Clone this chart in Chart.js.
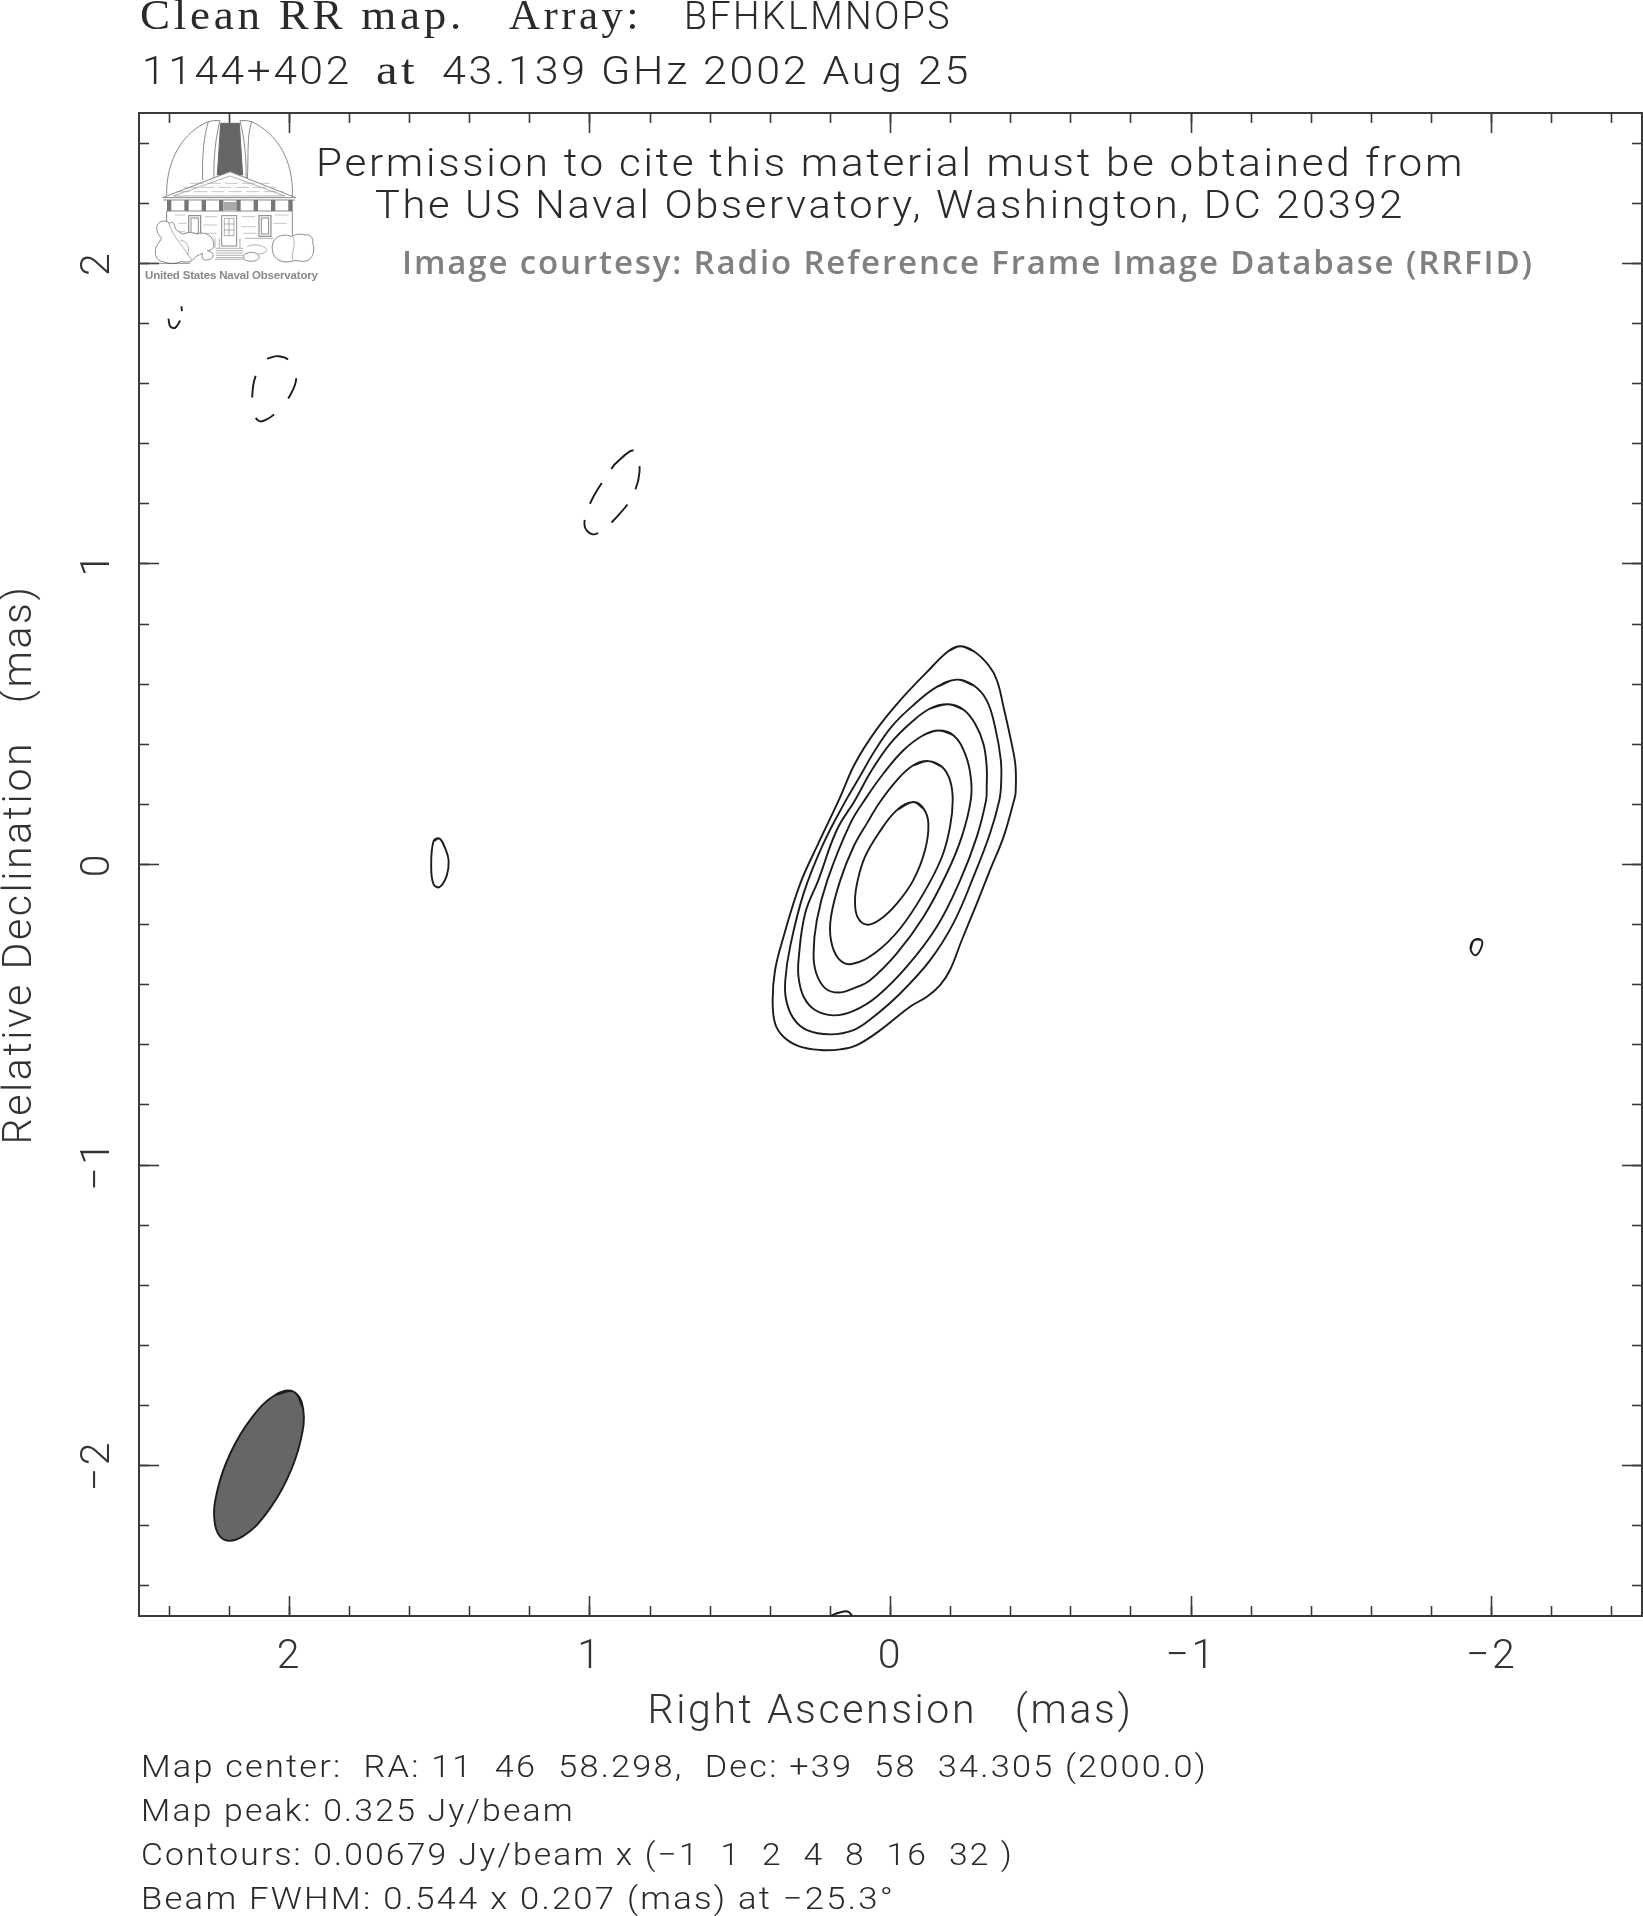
<!DOCTYPE html>
<html><head><meta charset="utf-8">
<script src="https://cdn.jsdelivr.net/npm/chart.js@4/dist/chart.umd.min.js"></script>
<style>
html,body{margin:0;padding:0;background:#fff;overflow:hidden}
#wrap{position:relative;width:1643px;height:1916px}
canvas{position:absolute;left:0;top:0}
svg{position:absolute;left:0;top:0}
svg text{white-space:pre}
</style></head><body>
<div id="wrap"><canvas id="c" width="1643" height="1916"></canvas>
<svg id="ov" width="1643" height="1916" viewBox="0 0 1643 1916" xmlns="http://www.w3.org/2000/svg"></svg></div>
<script>
const majorTicks=[2,1,0,-1,-2];
const majorLabels=['2','1','0','\u22121','\u22122'];
const minorTicks=[2.4,2.2,2,1.8,1.6,1.4,1.2,1,0.8,0.6,0.4,0.2,0,-0.2,-0.4,-0.6,-0.8,-1,-1.2,-1.4,-1.6,-1.8,-2,-2.2,-2.4];
const xTitle='Right Ascension   (mas)';
const yTitle='Relative Declination   (mas)';

const contour1=[[-0.232,0.726],[-0.276,0.710],[-0.326,0.663],[-0.354,0.613],[-0.376,0.524],[-0.403,0.402],[-0.416,0.325],[-0.416,0.236],[-0.411,0.214],[-0.376,0.092],[-0.331,-0.019],[-0.287,-0.130],[-0.237,-0.252],[-0.198,-0.351],[-0.165,-0.401],[-0.121,-0.440],[-0.065,-0.473],[0.034,-0.551],[0.112,-0.601],[0.167,-0.615],[0.234,-0.617],[0.306,-0.604],[0.356,-0.573],[0.384,-0.529],[0.392,-0.451],[0.384,-0.351],[0.356,-0.241],[0.300,-0.063],[0.240,0.070],[0.172,0.214],[0.118,0.336],[0.048,0.447],[-0.032,0.546],[-0.121,0.640],[-0.193,0.710],[-0.232,0.726]];
const contour2=[[-0.221,0.615],[-0.276,0.596],[-0.320,0.546],[-0.348,0.457],[-0.367,0.347],[-0.368,0.269],[-0.362,0.214],[-0.331,0.103],[-0.276,-0.041],[-0.209,-0.196],[-0.132,-0.318],[-0.032,-0.429],[0.057,-0.507],[0.123,-0.551],[0.201,-0.565],[0.278,-0.551],[0.323,-0.512],[0.347,-0.451],[0.350,-0.385],[0.334,-0.274],[0.289,-0.096],[0.223,0.070],[0.148,0.214],[0.103,0.291],[0.055,0.374],[-0.003,0.458],[-0.076,0.530],[-0.154,0.591],[-0.221,0.615]];
const contour3=[[-0.193,0.533],[-0.243,0.515],[-0.281,0.469],[-0.309,0.402],[-0.320,0.325],[-0.320,0.258],[-0.318,0.214],[-0.287,0.092],[-0.232,-0.052],[-0.154,-0.207],[-0.054,-0.340],[0.046,-0.440],[0.123,-0.487],[0.190,-0.502],[0.251,-0.484],[0.289,-0.440],[0.306,-0.374],[0.305,-0.307],[0.284,-0.163],[0.240,-0.052],[0.179,0.114],[0.118,0.214],[0.062,0.314],[0.001,0.402],[-0.065,0.469],[-0.132,0.519],[-0.193,0.533]];
const contour4=[[-0.160,0.446],[-0.209,0.430],[-0.248,0.369],[-0.267,0.291],[-0.267,0.214],[-0.237,0.092],[-0.187,-0.030],[-0.110,-0.174],[-0.021,-0.296],[0.068,-0.385],[0.123,-0.412],[0.173,-0.426],[0.217,-0.412],[0.247,-0.362],[0.256,-0.296],[0.245,-0.185],[0.210,-0.052],[0.134,0.136],[0.079,0.225],[0.024,0.302],[-0.043,0.380],[-0.109,0.430],[-0.160,0.446]];
const contour5=[[-0.126,0.344],[-0.171,0.325],[-0.198,0.280],[-0.207,0.214],[-0.198,0.125],[-0.171,0.025],[-0.110,-0.096],[-0.032,-0.213],[0.046,-0.290],[0.129,-0.331],[0.173,-0.313],[0.198,-0.252],[0.198,-0.174],[0.167,-0.052],[0.123,0.059],[0.079,0.136],[0.035,0.208],[-0.021,0.280],[-0.076,0.330],[-0.126,0.344]];
const contour6=[[-0.076,0.208],[-0.110,0.186],[-0.126,0.136],[-0.115,0.048],[-0.076,-0.052],[-0.021,-0.130],[0.035,-0.183],[0.079,-0.200],[0.110,-0.174],[0.118,-0.119],[0.109,-0.052],[0.085,0.025],[0.040,0.103],[-0.021,0.181],[-0.076,0.208]];
const islandWest=[[1.500,0.086],[1.481,0.053],[1.470,0.014],[1.476,-0.036],[1.500,-0.075],[1.520,-0.066],[1.528,-0.008],[1.520,0.078],[1.500,0.086]];
const islandEast=[[-1.941,-0.252],[-1.964,-0.250],[-1.967,-0.271],[-1.947,-0.302],[-1.930,-0.282],[-1.941,-0.252]];
const islandSouth=[[0.198,-2.499],[0.184,-2.493],[0.156,-2.485],[0.140,-2.486],[0.128,-2.499]];
const negativeA=[[2.074,1.683],[2.035,1.691],[1.999,1.675],[1.977,1.622],[1.994,1.567],[2.039,1.508],[2.080,1.478],[2.102,1.476],[2.121,1.506],[2.124,1.544],[2.113,1.622],[2.074,1.683]];
const negativeB=[[0.918,1.331],[0.866,1.375],[0.849,1.373],[0.835,1.306],[0.860,1.223],[0.908,1.159],[0.962,1.110],[0.993,1.099],[1.018,1.129],[0.999,1.201],[0.960,1.270],[0.918,1.331]];
const negativeC=[[2.402,1.816],[2.396,1.790],[2.379,1.786],[2.363,1.810]];
const negativeD=[[2.359,1.857],[2.357,1.841]];
const beam=[[1.985,-1.754],[2.047,-1.765],[2.124,-1.839],[2.195,-1.956],[2.240,-2.085],[2.248,-2.191],[2.217,-2.246],[2.155,-2.235],[2.078,-2.161],[2.007,-2.044],[1.962,-1.915],[1.954,-1.809],[1.985,-1.754]];

const thin='Roboto';
const pts=a=>a.map(p=>({x:p[0],y:p[1]}));
const wrap=a=>[a[a.length-2],...a,a[1]];
const line=(a,extra)=>Object.assign({data:pts(a),showLine:true,pointRadius:0,borderColor:'#1c1c1c',borderWidth:1.9,tension:0.4,fill:false},extra||{});
const axisBase=(pos,vals,len,weight,size)=>({
  type:'linear',position:pos,
  reverse:pos==='top'||pos==='bottom',
  min:-2.5,max:2.5,weight,
  afterBuildTicks:s=>{s.ticks=vals.map(v=>({value:v}));},
  afterFit:s=>{if(s.isHorizontal())s.height=size;else s.width=size;},
  border:{display:true,color:'#3a3a3a',width:2},
  grid:{drawOnChartArea:false,drawTicks:true,tickLength:-len,tickColor:'#3a3a3a',tickWidth:1.6},
  ticks:{display:false}
});
const xMain=axisBase('bottom',majorTicks,20,0,300);
xMain.ticks={display:true,autoSkip:false,maxRotation:0,minRotation:0,padding:37,color:'#333',font:{family:thin,weight:300,size:41},callback:(v,i)=>majorLabels[i]};
xMain.title={display:true,text:xTitle,color:'#333',font:{family:thin,weight:300,size:41,lineHeight:1},padding:{top:0,bottom:183}};
const yMain=axisBase('left',majorTicks,20,0,139);
yMain.ticks={display:true,autoSkip:false,minRotation:90,maxRotation:90,crossAlign:'center',padding:37,color:'#333',font:{family:thin,weight:300,size:41},callback:(v,i)=>majorLabels[i]};
yMain.title={display:true,text:yTitle,color:'#333',font:{family:thin,weight:300,size:41,lineHeight:1},padding:{top:0,bottom:3}};

new Chart(document.getElementById('c'),{
  type:'scatter',
  data:{datasets:[
    line(wrap(contour1)),line(wrap(contour2)),line(wrap(contour3)),line(wrap(contour4)),line(wrap(contour5)),line(wrap(contour6)),
    line(wrap(islandWest)),line(wrap(islandEast)),line(islandSouth),
    line(negativeA,{borderDash:[22,21]}),line(negativeB,{borderDash:[24,17]}),line(negativeC),line(negativeD),
    line(wrap(beam),{fill:'shape',backgroundColor:'#666666',borderColor:'#1c1c1c'})
  ]},
  options:{
    responsive:false,animation:false,devicePixelRatio:1,
    layout:{padding:{left:0,right:1,top:113,bottom:0}},
    plugins:{legend:{display:false},tooltip:{enabled:false},title:{display:false}},
    scales:{
      x:xMain,
      xMinor:axisBase('bottom',minorTicks,10,-1,0),
      xTop:axisBase('top',majorTicks,20,0,0),
      xTopMinor:axisBase('top',minorTicks,10,-1,0),
      y:yMain,
      yMinor:axisBase('left',minorTicks,10,-1,0),
      yRight:axisBase('right',majorTicks,20,0,0),
      yRightMinor:axisBase('right',minorTicks,10,-1,0)
    }
  },
  plugins:[{id:'spacing',beforeDraw(ch){ch.ctx.letterSpacing='2.6px';}}]
});

const NS='http://www.w3.org/2000/svg';
const ov=document.getElementById('ov');
function txt(s,x0,x1,y,font,weight,size,fill,spacing,stretch){
  const t=document.createElementNS(NS,'text');
  t.textContent=s;t.setAttribute('x',x0);t.setAttribute('y',y);
  t.setAttribute('font-family',font);t.setAttribute('font-weight',weight);t.setAttribute('font-size',size);
  t.setAttribute('fill',fill||'#2a2a2a');
  t.setAttribute('textLength',x1-x0);t.setAttribute('lengthAdjust',stretch===false?'spacing':'spacingAndGlyphs');
  if(stretch!==false)t.style.letterSpacing=(spacing||0)+'px';
  ov.appendChild(t);
}
const serif='"Liberation Serif"';
txt('Clean RR map.',140,465,29,serif,400,42,'#2a2a2a',3.5);
txt('Array:',509,642,29,serif,400,42,'#2a2a2a',3.5);
txt('BFHKLMNOPS',684,952,29,thin,300,39,null,2.5);
txt('1144+402',142,352,84,thin,300,39,null,2.5);
txt('at',376,418,84,serif,400,42,'#2a2a2a',3);
txt('43.139 GHz 2002 Aug 25',442,971,84,thin,300,39,null,2.5);
txt('Permission to cite this material must be obtained from',316,1465,176,thin,300,39,null,2.5);
txt('The US Naval Observatory, Washington, DC 20392',375,1405,218,thin,300,39,null,2.5);
txt('Image courtesy: Radio Reference Frame Image Database (RRFID)',402,1532,274,'"Open Sans"',600,33,'#808080',0,false);
txt('United States Naval Observatory',145,318,279,'"Liberation Sans"',700,11.5,'#888',0,false);
txt('Map center:  RA: 11  46  58.298,  Dec: +39  58  34.305 (2000.0)',141,1208,1777,thin,300,31,null,2);
txt('Map peak: 0.325 Jy/beam',141,575,1821,thin,300,31,null,2);
txt('Contours: 0.00679 Jy/beam x (\u22121  1  2  4  8  16  32 )',141,1014,1865,thin,300,31,null,2);
txt('Beam FWHM: 0.544 x 0.207 (mas) at \u221225.3\u00b0',141,895,1909,thin,300,31,null,2);

const logo=document.createElementNS(NS,'g');
logo.setAttribute('transform','translate(130,100) scale(0.3333)');
logo.setAttribute('fill','none');logo.setAttribute('stroke','#8a8a8a');logo.setAttribute('stroke-width','3');
logo.innerHTML=`
<path d="M110,285 C108,180 160,95 235,65 Q250,60 270,62 M330,62 Q350,60 365,65 C440,100 492,180 487,290"/>
<path d="M218,240 C216,160 222,110 235,65 M252,235 C250,170 258,110 270,62 M348,235 C350,170 342,110 330,62 M352,240 C356,170 350,110 365,65"/>
<path d="M272,70 L328,70 L338,225 L262,225 Z" fill="#666" stroke="#666"/>
<path d="M98,293 L300,215 L497,293 Z" fill="#fff"/>
<path d="M130,288 L300,228 L465,288 Z" stroke-width="2"/>
<path d="M180,250 H420 M160,262 H440 M140,275 H460" stroke-width="1.5" stroke-dasharray="40 12"/>
<path d="M100,300 H495 M110,333 H487" />
<g fill="#777" stroke="none"><rect x="111" y="300" width="13" height="33"/><rect x="163" y="300" width="13" height="33"/><rect x="215" y="300" width="13" height="33"/><rect x="267" y="300" width="13" height="33"/><rect x="280" y="306" width="38" height="24" fill="#aaa"/><rect x="319" y="300" width="13" height="33"/><rect x="371" y="300" width="13" height="33"/><rect x="423" y="300" width="13" height="33"/><rect x="475" y="300" width="13" height="33"/></g>
<path d="M110,333 V415 M487,333 V415"/>
<path d="M135,345 H165 M225,350 H262 M335,350 H375 M435,345 H475 M145,370 H170 M220,375 H262 M335,380 H380 M430,370 H470 M120,395 H165 M225,400 H260 M340,400 H380" stroke-width="1.5"/>
<rect x="176" y="347" width="36" height="60" stroke-width="3.5"/><rect x="183" y="354" width="22" height="46"/>
<rect x="387" y="347" width="36" height="62" stroke-width="3.5"/><rect x="394" y="354" width="22" height="48"/>
<rect x="275" y="347" width="45" height="91" stroke-width="3"/><path d="M283,355 H312 V407 H283 Z M297,355 V407 M283,372 H312 M283,390 H312" stroke-width="2"/>
<path d="M258,445 H340 M258,452 H340 M258,459 H340 M258,466 H340 M258,473 H340 M255,478 H342" stroke-width="2"/>
<path d="M255,415 V445 M268,415 V445 M330,415 V445 M345,415 H430" stroke-width="2"/>
<path d="M82,375 C92,358 112,362 118,370 C128,362 135,372 135,385 C145,395 150,400 160,402 C175,395 190,398 200,402 C220,395 245,402 250,425 C255,445 245,450 232,452 C256,455 255,478 232,480 C215,482 215,470 218,460 C205,465 195,470 188,480 C175,492 155,482 150,486 C130,495 110,490 100,485 C85,485 75,470 76,455 C74,440 90,425 95,415 C85,405 76,390 82,375 Z" fill="#fff"/>
<path d="M115,368 C130,410 160,440 185,480 M150,420 C175,425 180,445 172,465" stroke-width="2"/>
<path d="M345,462 C360,455 375,455 385,465 C395,480 370,487 350,482 C340,478 338,468 345,462 Z" fill="#fff"/>
<path d="M352,440 C370,430 395,435 408,445 C415,455 400,462 385,462" fill="none" stroke-width="2"/>
<path d="M435,418 C445,405 470,402 485,410 C500,400 515,402 525,405 C540,400 552,415 548,430 C555,445 552,470 535,480 C515,490 500,478 490,483 C465,490 440,485 430,462 C425,445 425,430 435,418 Z" fill="#fff"/>
<path d="M490,412 C500,440 480,460 490,482" stroke-width="2"/>
<path d="M27,490 H180" stroke="#555" stroke-width="2"/>`;
ov.appendChild(logo);
</script></body></html>
